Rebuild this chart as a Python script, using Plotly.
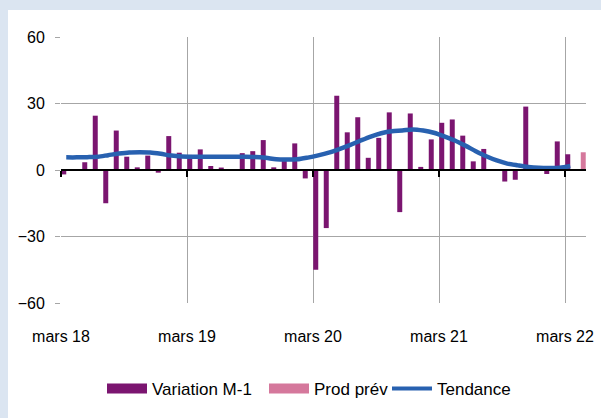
import numpy as np
import plotly.graph_objects as go

# ---- data ----
months = [f"{m} {y}" for y in range(18, 23) for m in
          ["janv", "févr", "mars", "avr", "mai", "juin", "juil", "août", "sept", "oct", "nov", "déc"]]
months = months[2:2 + 50]  # mars 18 .. avr 22

variation = [-2, 0.4, 3.5, 24.5, -15, 17.8, 6, 1.2, 6.5, -1.2,
             15.3, 7.8, 6.8, 9.3, 1.8, 1.1, 0.3, 7.6, 8.5, 13.5,
             1.2, 4.5, 12, -3.8, -45, -26.2, 33.5, 17, 23.8, 5.5,
             14.5, 26, -19, 25.5, 1.4, 13.8, 21.3, 22.8, 15.5, 3.9,
             9.5, 0.3, -5.2, -4.4, 28.6, 0.5, -1.8, 12.9, 7.1, None]
prod_prev = [None] * 49 + [8]
tendance = [5.7, 5.7, 5.8, 6.0, 6.7, 7.4, 7.9, 8.0, 7.9, 7.3,
            6.5, 6.1, 6.0, 6.0, 6.0, 6.0, 6.0, 6.0, 5.9, 5.5,
            4.8, 4.7, 4.8, 5.6, 6.6, 7.8, 9.4, 11.2, 13.2, 15.1,
            16.6, 17.5, 17.8, 18.3, 17.8, 16.8, 15.2, 13.3, 11.0, 8.5,
            6.2, 4.3, 2.9, 2.1, 1.4, 1.0, 0.9, 1.0, 1.8]
tick_idx = [0, 12, 24, 36, 48]
tick_text = ["mars 18", "mars 19", "mars 20", "mars 21", "mars 22"]
y_ticks = [-60, -30, 0, 30, 60]

# ---- figure ----
x = np.arange(len(months)) + 0.5
FONT = "Liberation Sans, Arial, sans-serif"
C_VAR, C_PREV, C_TEND = "#7b1570", "#d5789c", "#2861b0"

W, H = 601, 418
L, R, T, B = 61, 15, 37, 115
pw, ph = W - L - R, H - T - B

fig = go.Figure()
fig.add_trace(go.Bar(x=x, y=variation, name="Variation M-1", showlegend=False,
                     marker=dict(color=C_VAR, line=dict(width=0))))
fig.add_trace(go.Bar(x=x, y=prod_prev, name="Prod prév", showlegend=False,
                     marker=dict(color=C_PREV, line=dict(width=0))))
fig.add_trace(go.Scatter(x=x[:len(tendance)], y=tendance, name="Tendance",
                         mode="lines", showlegend=False,
                         line=dict(color=C_TEND, width=4.5, shape="spline", smoothing=0.8)))
# legend entries (wide rectangular swatches as in the reference), one legend each
fig.add_trace(go.Scatter(x=[None], y=[None], name="Variation M-1", mode="lines",
                         line=dict(color=C_VAR, width=12), legend="legend"))
fig.add_trace(go.Scatter(x=[None], y=[None], name="Prod prév", mode="lines",
                         line=dict(color=C_PREV, width=12), legend="legend2"))
fig.add_trace(go.Scatter(x=[None], y=[None], name="Tendance", mode="lines",
                         line=dict(color=C_TEND, width=4), legend="legend3"))
# invisible trace for the zero-crossing x axis with its tick marks
fig.add_trace(go.Scatter(x=[0, 50], y=[0, 0], xaxis="x2", mode="lines",
                         line=dict(width=0), showlegend=False, hoverinfo="skip"))


def leg(px):
    return dict(orientation="h", x=(px - L) / pw, xanchor="left", y=-0.255, yanchor="top",
                font=dict(size=17), itemwidth=40, bgcolor="rgba(0,0,0,0)")


fig.update_layout(
    width=W, height=H,
    margin=dict(l=L, r=R, t=T, b=B, autoexpand=False),
    paper_bgcolor="#dbe5f1",
    plot_bgcolor="white",
    barmode="group", bargap=0.05, bargroupgap=0,
    font=dict(family=FONT, size=16, color="#000000"),
    showlegend=True,
    legend=leg(102),
    legend2=leg(264),
    legend3=leg(387),
    xaxis=dict(range=[0, 50], tickmode="array", tickvals=tick_idx, ticktext=tick_text,
               showgrid=True, gridcolor="#a6a6a6", gridwidth=1,
               showline=False, zeroline=False, ticks="", tickangle=0,
               ticklabelstandoff=22, automargin=False),
    xaxis2=dict(range=[0, 50], overlaying="x", anchor="free", position=0.5,
                side="bottom", tickmode="array", tickvals=tick_idx,
                ticks="outside", ticklen=6, tickcolor="black", tickwidth=1.5,
                showticklabels=False, showgrid=False, showline=True,
                linecolor="black", linewidth=1.5, zeroline=False),
    yaxis=dict(range=[-60, 60], tickmode="array", tickvals=y_ticks,
               showgrid=True, gridcolor="#a6a6a6", gridwidth=1,
               zeroline=False, showline=False,
               ticks="outside", ticklen=5, tickcolor="#a6a6a6",
               ticklabelstandoff=7, automargin=False),
    shapes=[dict(type="rect", layer="below", xref="paper", yref="paper",
                 x0=(8 - L) / pw, x1=(W + 5 - L) / pw,
                 y0=-(H + 5 - T - ph) / ph, y1=1 + (T - 10) / ph,
                 fillcolor="white", line=dict(width=0))],
)

fig.write_html(
    "out.html",
    config={"displayModeBar": False},
    post_script="document.body.style.margin='0';document.body.style.background='#dbe5f1';",
)
